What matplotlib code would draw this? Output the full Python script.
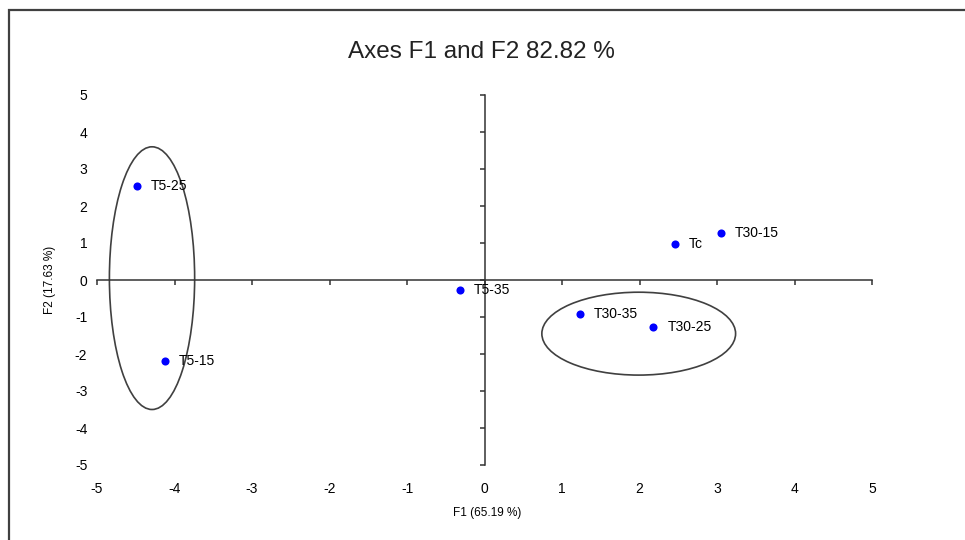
import matplotlib.pyplot as plt
from matplotlib.patches import Ellipse, Rectangle

plt.rcParams['font.family'] = ['Liberation Sans', 'DejaVu Sans']
plt.rcParams['axes.unicode_minus'] = False

# observations on the first two factors
labels = ['T5-25', 'T5-15', 'T5-35', 'T30-35', 'T30-25', 'Tc', 'T30-15']
f1 = [-4.49, -4.12, -0.32, 1.23, 2.18, 2.46, 3.05]
f2 = [2.55, -2.19, -0.27, -0.93, -1.28, 0.97, 1.27]

# groups circled on the map: centre x, centre y, width, height
groups_x = [-4.29, 1.99]
groups_y = [0.05, -1.45]
groups_w = [1.10, 2.50]
groups_h = [7.10, 2.24]

ticks = [-5, -4, -3, -2, -1, 0, 1, 2, 3, 4, 5]

W, H = 965, 540
fig = plt.figure(figsize=(W / 100, H / 100), dpi=100)
pos = [97 / W, 75 / H, 775 / W, 370 / H]

line_col = '#333333'

# axes with the spines crossing at zero
ax = fig.add_axes(pos)
ax.set_xlim(-5, 5)
ax.set_ylim(-5, 5)
ax.patch.set_visible(False)
for side in ['top', 'right']:
    ax.spines[side].set_visible(False)
ax.spines['left'].set_position(('data', 0))
ax.spines['bottom'].set_position(('data', 0))
for side in ['left', 'bottom']:
    ax.spines[side].set_color(line_col)
    ax.spines[side].set_linewidth(1.1)
ax.set_xticks(ticks)
ax.set_yticks(ticks)
ax.tick_params(direction='out', length=3.6, width=1.1, color=line_col,
               labelbottom=False, labelleft=False)

# overlay only for tick labels at the edges
lab = fig.add_axes(pos, sharex=ax, sharey=ax)
lab.patch.set_visible(False)
for s in lab.spines.values():
    s.set_visible(False)
lab.tick_params(length=0, labelsize=10, colors='black')
lab.tick_params(axis='x', pad=12)
lab.tick_params(axis='y', pad=7)
lab.set_xticks(ticks)
lab.set_yticks(ticks)

ax.scatter(f1, f2, s=34, color='#0000ff', zorder=3, linewidths=0)
for x, y, t in zip(f1, f2, labels):
    ax.annotate(t, (x, y), xytext=(10, 0), textcoords='offset points',
                va='center', ha='left', fontsize=10)

for cx, cy, w, h in zip(groups_x, groups_y, groups_w, groups_h):
    ax.add_patch(Ellipse((cx, cy), w, h, fill=False, edgecolor='#404040',
                         linewidth=1.2, zorder=2))

fig.text(481.5 / W, 1 - 58 / H, 'Axes F1 and F2 82.82 %', ha='center',
         va='baseline', fontsize=17.5, color='#222222')
fig.text(487 / W, 1 - 513 / H, 'F1 (65.19 %)', ha='center', va='center',
         fontsize=8.5)
fig.text(50 / W, 1 - 280 / H, 'F2 (17.63 %)', ha='center', va='center',
         rotation=90, fontsize=8.5)

# outer frame
fig.patches.append(Rectangle((9 / W, -0.05), 1.0, 1 - 10 / H + 0.05,
                             transform=fig.transFigure, fill=False,
                             edgecolor='#404040', linewidth=1.6))

fig.savefig('out.png', dpi=100)
